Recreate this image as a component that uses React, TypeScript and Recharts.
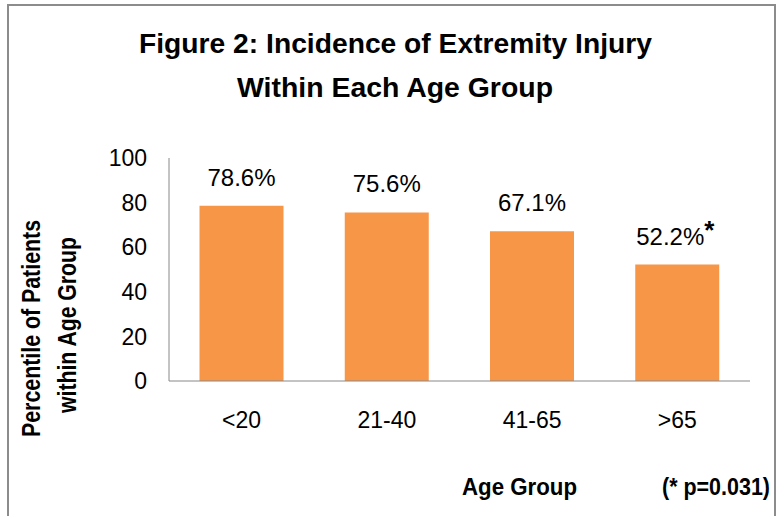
import React from 'react';
import { BarChart, Bar, XAxis, YAxis, LabelList } from 'recharts';

const ageGroups = ['<20', '21-40', '41-65', '>65'];
const incidence = [78.6, 75.6, 67.1, 52.2];
const significant = [false, false, false, true];
const yTicks = [0, 20, 40, 60, 80, 100];

const data = ageGroups.map((group, i) => ({
  group,
  value: incidence[i],
  star: significant[i],
}));

const FONT = '"Liberation Sans", Arial, Helvetica, sans-serif';

const BarLabel = (props: any) => {
  const { x, y, width, index } = props;
  const cx = x + width / 2;
  const ty = y - 20;
  const d = data[index];
  const shift = d.star ? -7 : 0;
  return (
    <g>
      <text x={cx + shift} y={ty} textAnchor="middle" fontSize={24} fontFamily={FONT} fill="#000">
        {d.value.toFixed(1)}%
      </text>
      {d.star && (
        <text x={cx + 27} y={ty - 6} textAnchor="start" fontSize={26} fontWeight="bold" fontFamily={FONT} fill="#000">
          *
        </text>
      )}
    </g>
  );
};

export default function App() {
  return (
    <div style={{ position: 'absolute', left: 0, top: 0, width: 780, height: 516, background: '#fff' }}>
      <BarChart
        width={780}
        height={516}
        data={data}
        margin={{ top: 158, right: 30, bottom: 105, left: 109 }}
        barCategoryGap="21%"
      >
        <XAxis
          dataKey="group"
          stroke="#888"
          tickLine={false}
          tickSize={0}
          tickMargin={31}
          height={30}
          tick={{ fill: '#000', fontSize: 23, fontFamily: FONT }}
        />
        <YAxis
          domain={[0, 100]}
          ticks={yTicks}
          width={60}
          stroke="#888"
          tickLine={false}
          tickSize={0}
          tickMargin={22}
          tick={{ fill: '#000', fontSize: 23, fontFamily: FONT }}
        />
        <Bar dataKey="value" fill="#F79646" isAnimationActive={false}>
          <LabelList dataKey="value" content={BarLabel} />
        </Bar>
      </BarChart>
      <svg
        width={780}
        height={516}
        style={{ position: 'absolute', left: 0, top: 0, pointerEvents: 'none' }}
        fontFamily={FONT}
      >
        <rect x={8} y={5} width={767} height={530} fill="none" stroke="#8c8c8c" strokeWidth={2} />
        <text x={139} y={53} fontSize={28} fontWeight="bold" textLength={513} lengthAdjust="spacingAndGlyphs">
          Figure 2: Incidence of Extremity Injury
        </text>
        <text x={237} y={97} fontSize={28} fontWeight="bold" textLength={316} lengthAdjust="spacingAndGlyphs">
          Within Each Age Group
        </text>
        <text
          transform="translate(40,437) rotate(-90)"
          fontSize={25}
          fontWeight="bold"
          textLength={217}
          lengthAdjust="spacingAndGlyphs"
        >
          Percentile of Patients
        </text>
        <text
          transform="translate(76,413) rotate(-90)"
          fontSize={25}
          fontWeight="bold"
          textLength={176}
          lengthAdjust="spacingAndGlyphs"
        >
          within Age Group
        </text>
        <text x={462} y={495} fontSize={24} fontWeight="bold" textLength={115} lengthAdjust="spacingAndGlyphs">
          Age Group
        </text>
        <text x={662} y={495} fontSize={24} fontWeight="bold" textLength={108} lengthAdjust="spacingAndGlyphs">
          (* p=0.031)
        </text>
      </svg>
    </div>
  );
}
